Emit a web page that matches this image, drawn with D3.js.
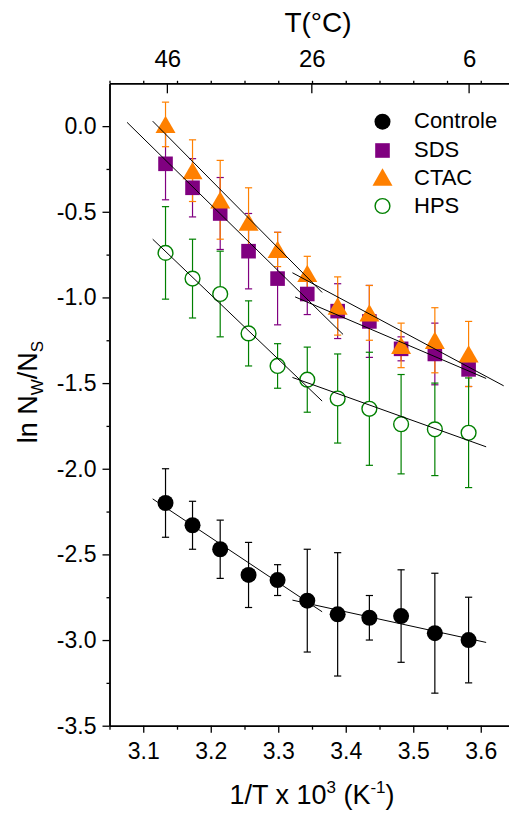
<!DOCTYPE html>
<meta charset="utf-8">
<style>
  body { margin: 0; background: #fff; }
  text { font-family: "Liberation Sans", Arial, sans-serif; fill: #000; }
</style>
<div id="container"></div>
<script src="https://cdn.jsdelivr.net/npm/d3@7"></script>
<script>

// 1/T x 10^3 for each measured temperature
const invT = [3.133, 3.173, 3.214, 3.256, 3.299, 3.343, 3.388, 3.435, 3.482, 3.532, 3.582];

const controle    = [-2.20, -2.33, -2.47, -2.62, -2.65, -2.77, -2.85, -2.87, -2.86, -2.96, -3.00];
const controleErr = [0.20, 0.14, 0.17, 0.19, 0.09, 0.30, 0.36, 0.13, 0.27, 0.35, 0.25];
const sds         = [-0.22, -0.36, -0.51, -0.73, -0.89, -0.98, -1.08, -1.14, -1.30, -1.33, -1.42];
const sdsErr      = [0.21, 0.17, 0.21, 0.22, 0.27, 0.12, 0.16, 0.21, 0.07, 0.18, 0.10];
const ctac        = [0.01, -0.26, -0.43, -0.56, -0.72, -0.86, -1.05, -1.09, -1.28, -1.25, -1.33];
const ctacErr     = [0.13, 0.18, 0.23, 0.20, 0.10, 0.10, 0.17, 0.16, 0.13, 0.19, 0.19];
const hps         = [-0.74, -0.89, -0.98, -1.21, -1.40, -1.48, -1.59, -1.65, -1.74, -1.77, -1.79];
const hpsErr      = [0.27, 0.23, 0.25, 0.19, 0.13, 0.19, 0.26, 0.33, 0.29, 0.27, 0.32];

// linear fits, two regimes per series: [x1, y1, x2, y2]
const fitControle = [[3.114, -2.176, 3.365, -2.835], [3.321, -2.767, 3.608, -3.014]];
const fitSds      = [[3.076, 0.022, 3.396, -1.216], [3.325, -0.997, 3.608, -1.473]];
const fitCtac     = [[3.114, 0.029, 3.365, -0.971], [3.321, -0.856, 3.634, -1.516]];
const fitHps      = [[3.114, -0.660, 3.365, -1.605], [3.321, -1.467, 3.608, -1.872]];

const xTicks = [3.1, 3.2, 3.3, 3.4, 3.5, 3.6];
const yTicks = [0.0, -0.5, -1.0, -1.5, -2.0, -2.5, -3.0, -3.5];
const topLabels = ["46", "26", "6"];
const topTickPos = [3.135, 3.349, 3.582];

const W = 509, H = 817;
const svg = d3.select("#container").append("svg")
  .attr("width", W).attr("height", H);

const x = d3.scaleLinear().domain([3.05, 3.65]).range([109.5, 514.5]);
const y = d3.scaleLinear().domain([-3.5, 0.25]).range([725.7, 83.3]);

const series = [
  { name: "Controle", v: controle, e: controleErr, fit: fitControle, color: "#000000", shape: "circle" },
  { name: "SDS",      v: sds,      e: sdsErr,      fit: fitSds,      color: "#800080", shape: "square" },
  { name: "CTAC",     v: ctac,     e: ctacErr,     fit: fitCtac,     color: "#ff8000", shape: "triangle" },
  { name: "HPS",      v: hps,      e: hpsErr,      fit: fitHps,      color: "#008000", shape: "open" }
];

// marker drawing
function marker(g, shape, color, cx, cy) {
  if (shape == "circle") {
    g.append("circle").attr("cx", cx).attr("cy", cy).attr("r", 8).attr("fill", color);
  } else if (shape == "square") {
    g.append("rect").attr("x", cx - 7.3).attr("y", cy - 7.3)
      .attr("width", 14.6).attr("height", 14.6).attr("fill", color);
  } else if (shape == "triangle") {
    const w = 20, h = 17.3;
    g.append("path")
      .attr("d", `M${cx},${cy - h / 2}L${cx + w / 2},${cy + h / 2}L${cx - w / 2},${cy + h / 2}Z`)
      .attr("fill", color);
  } else {
    g.append("circle").attr("cx", cx).attr("cy", cy).attr("r", 7.4)
      .attr("fill", "#fff").attr("stroke", color).attr("stroke-width", 1.4);
  }
}

// error bars
const bars = svg.append("g");
series.forEach(s => {
  s.v.forEach((v, i) => {
    const cx = x(invT[i]);
    const y1 = y(v + s.e[i]), y2 = y(v - s.e[i]);
    bars.append("line").attr("x1", cx).attr("x2", cx).attr("y1", y1).attr("y2", y2)
      .attr("stroke", s.color).attr("stroke-width", 1.2);
    [y1, y2].forEach(yy => {
      bars.append("line").attr("x1", cx - 3.6).attr("x2", cx + 3.6).attr("y1", yy).attr("y2", yy)
        .attr("stroke", s.color).attr("stroke-width", 1.2);
    });
  });
});

// markers
const marks = svg.append("g");
series.forEach(s => {
  s.v.forEach((v, i) => marker(marks, s.shape, s.color, x(invT[i]), y(v)));
});

// fit lines
const fits = svg.append("g");
series.forEach(s => {
  s.fit.forEach(f => {
    fits.append("line")
      .attr("x1", x(f[0])).attr("y1", y(f[1]))
      .attr("x2", x(f[2])).attr("y2", y(f[3]))
      .attr("stroke", "#000").attr("stroke-width", 1);
  });
});

// axes
const fmt = d => d.toFixed(1);
const minorX = d3.range(3.05, 3.66, 0.05).filter(t => Math.abs(Math.round(t * 10) - t * 10) > 0.01);
const minorY = d3.range(-3.25, 0.1, 0.5);

svg.append("g").attr("transform", `translate(0,${y(-3.5)})`)
  .call(d3.axisBottom(x).tickValues(xTicks).tickSize(7).tickSizeOuter(0).tickPadding(10).tickFormat(fmt));
svg.append("g").attr("transform", `translate(0,${y(-3.5)})`)
  .call(d3.axisBottom(x).tickValues(minorX).tickSize(4).tickSizeOuter(0).tickFormat(""));

svg.append("g").attr("transform", `translate(${x(3.05)},0)`)
  .call(d3.axisLeft(y).tickValues(yTicks).tickSize(7).tickSizeOuter(0).tickPadding(6).tickFormat(fmt));
svg.append("g").attr("transform", `translate(${x(3.05)},0)`)
  .call(d3.axisLeft(y).tickValues(minorY).tickSize(3).tickSizeOuter(0).tickFormat(""));

// top axis: small outward ticks every 0.05, labelled temperature ticks inward
const topG = svg.append("g").attr("transform", `translate(0,${y(0.25)})`);
topG.call(d3.axisTop(x).tickValues(d3.range(3.05, 3.66, 0.05)).tickSize(2.5).tickSizeOuter(0).tickFormat(""));
topG.append("g").call(d3.axisBottom(x).tickValues(topTickPos).tickSize(10).tickSizeOuter(0).tickFormat(""));
topTickPos.forEach((t, i) => {
  svg.append("text").attr("x", x(t) + 1).attr("y", 66.5)
    .attr("text-anchor", "middle").attr("font-size", 24).text(topLabels[i]);
});

svg.selectAll(".domain").attr("stroke", "#000").attr("stroke-width", 1.5);
svg.selectAll(".tick line").attr("stroke", "#000").attr("stroke-width", 1.3);
svg.selectAll(".tick text").attr("font-size", 23).attr("font-family", "Liberation Sans, Arial, sans-serif");

// titles
svg.append("text").attr("x", 318).attr("y", 32).attr("text-anchor", "middle")
  .attr("font-size", 28).text("T(°C)");

const xt = svg.append("text").attr("x", 312).attr("y", 804).attr("text-anchor", "middle")
  .attr("font-size", 27);
xt.append("tspan").text("1/T x 10");
xt.append("tspan").attr("font-size", 17).attr("dy", -11).text("3");
xt.append("tspan").attr("dy", 11).text(" (K");
xt.append("tspan").attr("font-size", 17).attr("dy", -11).text("-1");
xt.append("tspan").attr("dy", 11).text(")");

const yt = svg.append("text").attr("transform", "translate(37,392) rotate(-90)")
  .attr("text-anchor", "middle").attr("font-size", 27);
yt.append("tspan").text("ln N");
yt.append("tspan").attr("font-size", 17).attr("dy", 6).text("W");
yt.append("tspan").attr("dy", -6).text("/N");
yt.append("tspan").attr("font-size", 17).attr("dy", 6).text("S");

// legend
const legY = [121.7, 150.5, 177, 206];
const legBase = [128.3, 157, 184.5, 213.3];
const leg = svg.append("g");
series.forEach((s, i) => {
  marker(leg, s.shape, s.color, 382.5, legY[i]);
  leg.append("text").attr("x", 414).attr("y", legBase[i]).attr("font-size", 22).text(s.name);
});

</script>
